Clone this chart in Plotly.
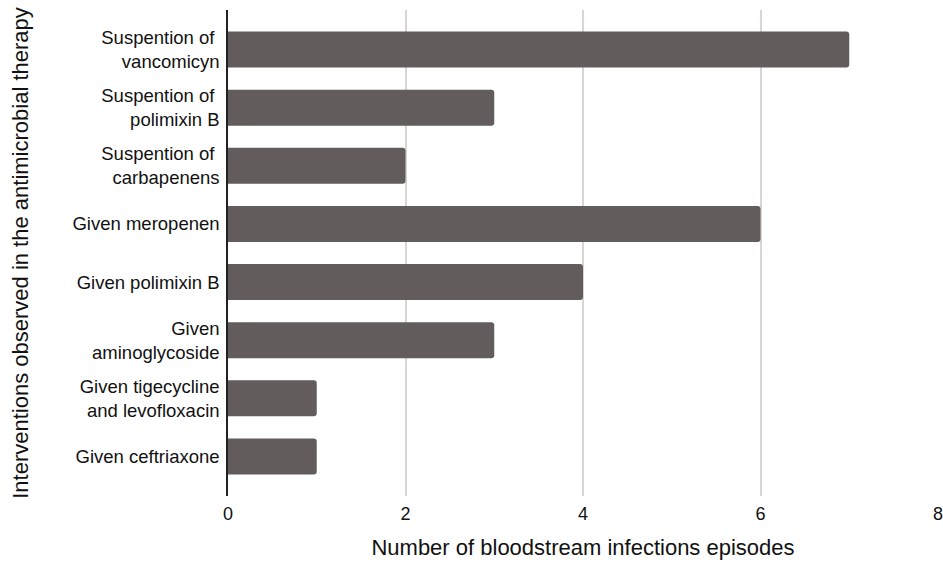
import plotly.graph_objects as go

categories = [
    "Suspention of <br>vancomicyn",
    "Suspention of <br>polimixin B",
    "Suspention of <br>carbapenens",
    "Given meropenen",
    "Given polimixin B",
    "Given<br>aminoglycoside",
    "Given tigecycline<br>and levofloxacin",
    "Given ceftriaxone",
]
values = [7, 3, 2, 6, 4, 3, 1, 1]
x_ticks = [0, 2, 4, 6, 8]

cats_bottom_up = categories[::-1]
vals_bottom_up = values[::-1]

fig = go.Figure(
    go.Bar(
        y=cats_bottom_up,
        x=vals_bottom_up,
        orientation="h",
        width=0.62,
        marker=dict(color="#625c5d", cornerradius=3, line=dict(width=0)),
        hoverinfo="skip",
    )
)

font_family = "Liberation Sans, Arial, sans-serif"

fig.update_layout(
    width=943,
    height=570,
    margin=dict(l=228, r=0, t=10, b=74, pad=0),
    plot_bgcolor="white",
    paper_bgcolor="white",
    showlegend=False,
    font=dict(family=font_family, size=18.5, color="#111111"),
    xaxis=dict(
        range=[0, 8],
        tickvals=x_ticks,
        showgrid=True,
        gridcolor="#d9d5d2",
        gridwidth=1.5,
        zeroline=False,
        showline=False,
        ticks="",
        ticklabelstandoff=5,
        ticklabeloverflow="allow",
        tickfont=dict(size=18),
        title=dict(text="Number of bloodstream infections episodes",
                   font=dict(size=22), standoff=16),
    ),
    yaxis=dict(
        type="category",
        range=[-0.68, 7.68],
        showgrid=False,
        showline=True,
        linecolor="#222222",
        linewidth=1.5,
        ticks="",
        ticklabelstandoff=3,
        tickfont=dict(size=18.5),
        title=dict(text="Interventions observed in the antimicrobial therapy",
                   font=dict(size=22), standoff=38),
    ),
)

fig.write_html("out.html", config={"displayModeBar": False},
               post_script="document.body.style.margin='0';")
